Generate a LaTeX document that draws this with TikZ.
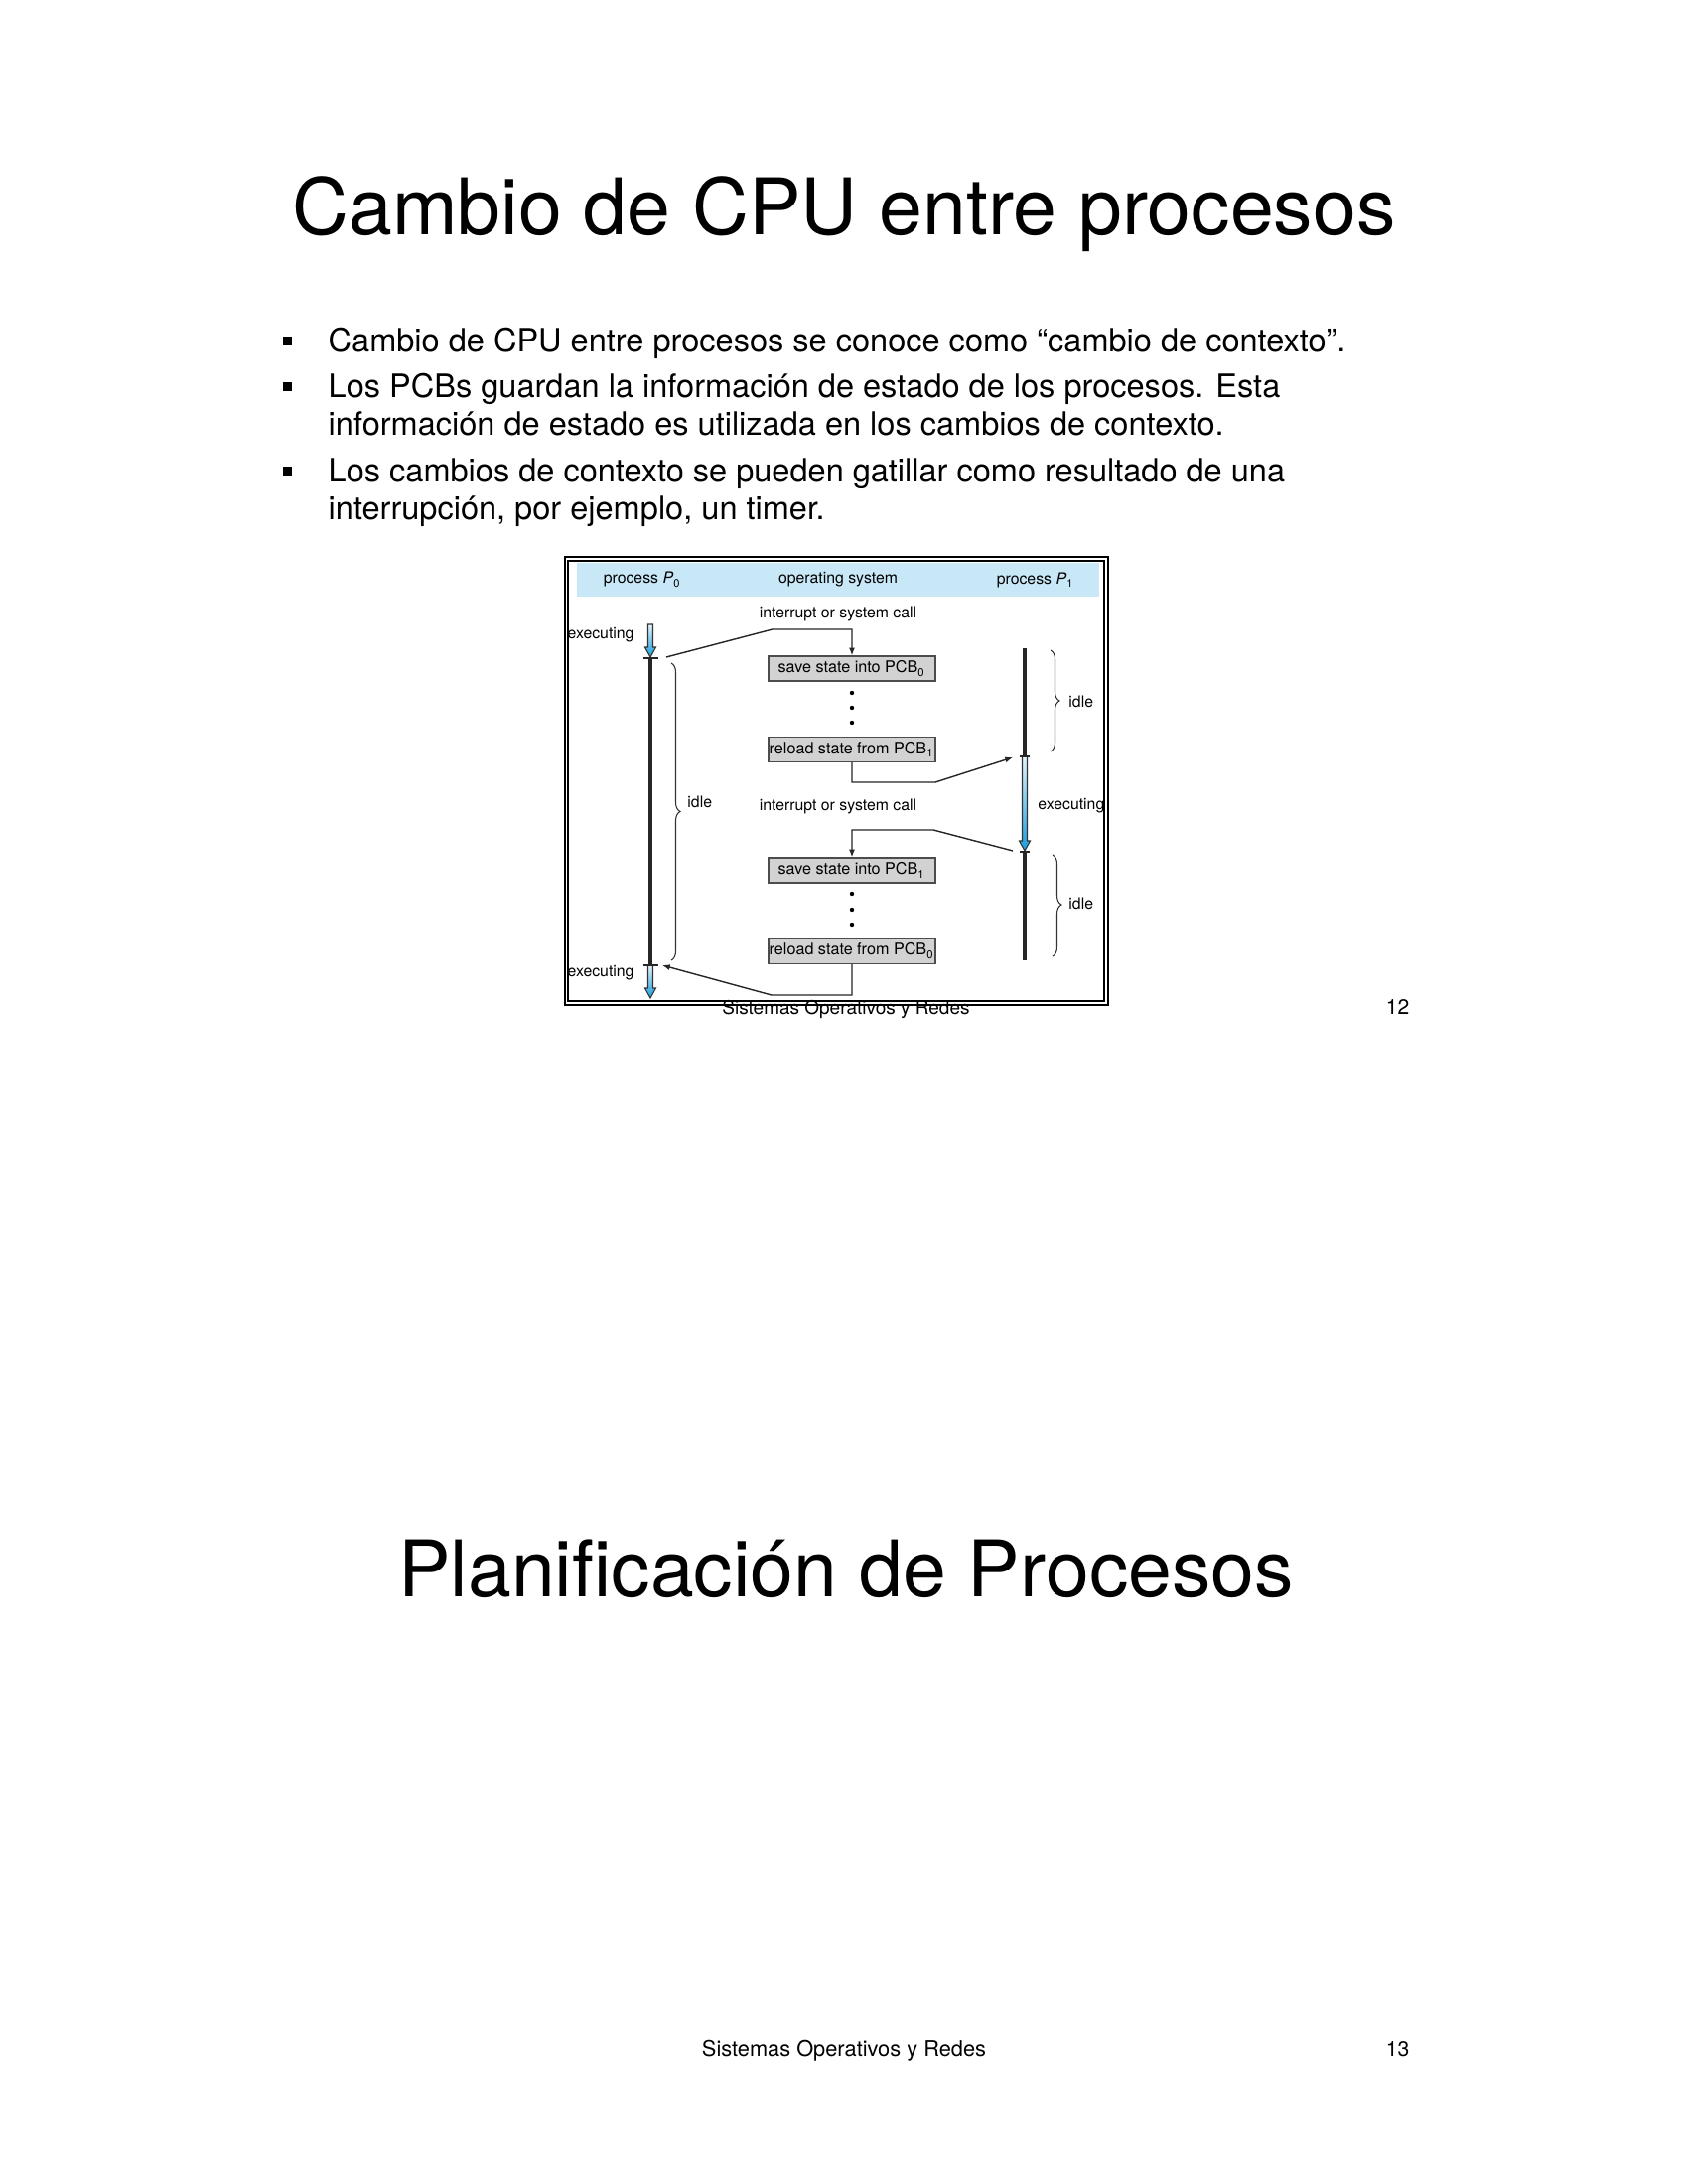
\documentclass[tikz,border=0pt]{standalone}
\usepackage{fontspec}
\setmainfont{TeX Gyre Heros}
\usepackage{xcolor}
\usetikzlibrary{arrows.meta,positioning,decorations.pathreplacing}

\definecolor{bandblue}{RGB}{200,232,248}
\definecolor{execblue}{RGB}{22,158,222}
\definecolor{execlight}{RGB}{228,244,252}
\definecolor{boxgray}{RGB}{210,210,210}

% x, top, tip of an "executing" arrow
\newcommand{\execarrow}[3]{%
  \shade[top color=execlight, bottom color=execblue, draw=black!80, line width=0.3pt]
    (#1-2.5,#2) -- (#1+2.5,#2) -- (#1+2.5,#3-10) -- (#1+5.5,#3-10) -- (#1,#3)
    -- (#1-5.5,#3-10) -- (#1-2.5,#3-10) -- cycle;}

\begin{document}
\begin{tikzpicture}[x=0.01cm, y=-0.01cm,
    lbl/.style = {font=\fontsize{4.5}{5.4}\selectfont, inner sep=0.5pt},
    pcb/.style = {draw=black!70, fill=boxgray, line width=0.35pt, minimum width=1.68cm,
                  minimum height=0.25cm, inner sep=0pt, font=\fontsize{4.6}{5.5}\selectfont},
    conn/.style = {line width=0.4pt, black!85},
    arr/.style = {conn, -{Latex[length=2.2pt,width=1.7pt]}},
    timeline/.style = {line width=1pt, black!85},
    tickmark/.style = {line width=0.35pt, black!85},
    idlebrace/.style = {decorate, decoration={brace, amplitude=0.09cm}, line width=0.3pt, black!80},
    bullet/.style = {font=\fontsize{9.25}{11}\selectfont, anchor=base west, inner sep=0pt},
    bigtitle/.style = {font=\fontsize{22.4}{27}\selectfont, anchor=base, inner sep=0pt}]
  \path[fill=white, use as bounding box] (0,0) rectangle (1700,2200);

  % slide 12
  \node (title) [bigtitle] at (850,236) {Cambio de CPU entre procesos};
  \node (b1) [bullet] at (330,354) {Cambio de CPU entre procesos se conoce como “cambio de contexto”.};
  \node (b2) [bullet] at (330,400) {Los PCBs guardan la información de estado de los procesos. Esta};
  \node (b2x) [bullet] at (330,438) {información de estado es utilizada en los cambios de contexto.};
  \node (b3) [bullet] at (330,485) {Los cambios de contexto se pueden gatillar como resultado de una};
  \node (b3x) [bullet] at (330,523) {interrupción, por ejemplo, un timer.};
  \foreach \y in {343,389,474}
    \fill (285,\y-4.5) rectangle (294,\y+4.5);

  % figure frame and header
  \draw[line width=0.6pt] (569,561) rectangle (1116,1012);
  \draw[line width=0.4pt] (572,565) rectangle (1112,1008);
  \fill[bandblue] (581,567) rectangle (1107,601);
  \node (hp0) [lbl] at (647,584) {process \textit{P}\textsubscript{0}};
  \node (hos) [lbl] at (844,584) {operating system};
  \node (hp1) [lbl] at (1043,584) {process \textit{P}\textsubscript{1}};

  \node (int1) [lbl] at (844,618) {interrupt or system call};
  \node (save0) [pcb] at (858,673.5) {save state into PCB\textsubscript{0}};
  \node (reload1) [pcb, below=0.55cm of save0] {reload state from PCB\textsubscript{1}};
  \node (int2) [lbl] at (844,812) {interrupt or system call};
  \node (save1) [pcb] at (858,876.5) {save state into PCB\textsubscript{1}};
  \node (reload0) [pcb, below=0.55cm of save1] {reload state from PCB\textsubscript{0}};
  \foreach \y in {698,713,728,901,917,932}
    \fill (858,\y) circle (2.2);

  % timelines
  \execarrow{655}{629}{662}
  \execarrow{1032}{762}{857}
  \execarrow{655}{972}{1005}
  \draw[timeline] (655,663) -- (655,972);
  \draw[timeline] (1032,653) -- (1032,762);
  \draw[timeline] (1032,858) -- (1032,967);
  \foreach \x/\y/\w in {655/663/7.5, 655/972/7.5, 1032/762/5, 1032/858/5}
    \draw[tickmark] (\x-\w,\y) -- (\x+\w,\y);

  \node (ex0) [lbl, anchor=east] at (641,640) {executing};
  \node (ex0b) [lbl, anchor=east] at (641,980) {executing};
  \node (ex1) [lbl, anchor=west] at (1043,812) {executing};

  \draw[idlebrace] (676,668) -- (676,967);
  \draw[idlebrace] (1058,655) -- (1058,757);
  \draw[idlebrace] (1060,861) -- (1060,963);
  \node (id0) [lbl, anchor=west] at (690,808) {idle};
  \node (id1) [lbl, anchor=west] at (1074,707) {idle};
  \node (id1b) [lbl, anchor=west] at (1074,911) {idle};

  % context switches
  \coordinate (p0out) at (671,662);
  \coordinate (p1in) at (1020,763);
  \coordinate (p1out) at (1020,857);
  \coordinate (p0in) at (667,972);
  \draw[arr] (p0out) -- (778,634) -| (save0.north);
  \draw[arr] (reload1.south) |- (942,788) -- (p1in);
  \draw[arr] (p1out) -- (940,836) -| (save1.north);
  \draw[arr] (reload0.south) |- (777,1002) -- (p0in);

  \node (foot12) [anchor=base, inner sep=0pt, font=\fontsize{5.4}{6}\selectfont] at (852,1021) {Sistemas Operativos y Redes};
  \node (pg12) [anchor=base east, inner sep=0pt, font=\fontsize{6}{7}\selectfont] at (1420,1021) {12};

  % slide 13
  \node (title2) [bigtitle] at (852,1608) {Planificación de Procesos};
  \node (foot13) [anchor=base, inner sep=0pt, font=\fontsize{6.2}{7}\selectfont] at (850,2071) {Sistemas Operativos y Redes};
  \node (pg13) [anchor=base east, inner sep=0pt, font=\fontsize{6}{7}\selectfont] at (1420,2071) {13};
\end{tikzpicture}
\end{document}
